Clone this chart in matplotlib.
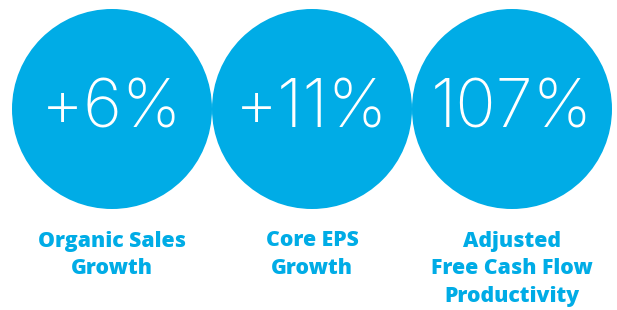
import matplotlib
matplotlib.use('Agg')
import matplotlib.pyplot as plt
from matplotlib.patches import Circle

# KPI values and their captions
values = ['+6%', '+11%', '107%']
captions = ['Organic Sales\nGrowth', 'Core EPS\nGrowth', 'Adjusted\nFree Cash Flow\nProductivity']

blue = '#00ACE6'

fig = plt.figure(figsize=(6.17, 3.10), dpi=100)
ax = fig.add_axes([0, 0, 1, 1])
ax.set_xlim(0, 617)
ax.set_ylim(310, 0)
ax.set_aspect('equal')
ax.axis('off')

for i, (val, cap) in enumerate(zip(values, captions)):
    cx = 112 + i * 200
    ax.add_patch(Circle((cx, 109), 100, color=blue, lw=0))
    ax.text(cx, 110, val, color='white', fontsize=48, fontfamily='Inter',
            fontweight='light', ha='center', va='center')
    ax.text(cx, 230.5, cap, color=blue, fontsize=15.3, fontfamily='Open Sans',
            fontweight='heavy', ha='center', va='top', linespacing=1.41)

fig.savefig('out.png', dpi=100)
